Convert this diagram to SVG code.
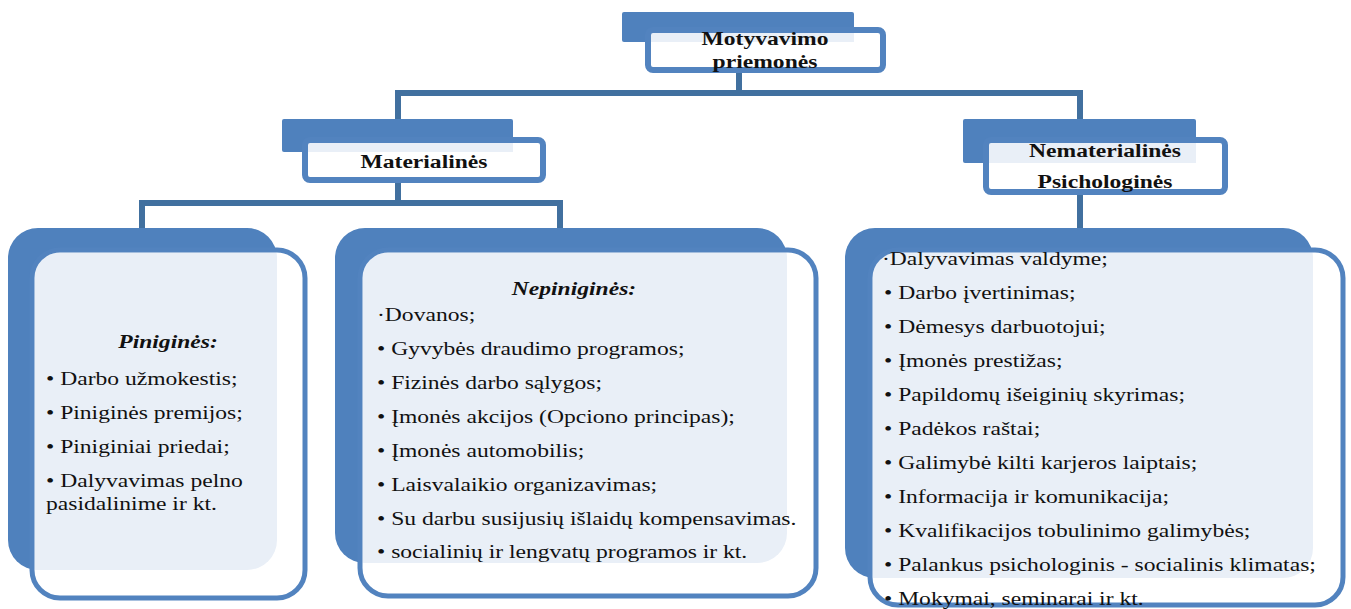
<svg xmlns="http://www.w3.org/2000/svg" width="1351" height="609" viewBox="0 0 1351 609">
<style>
.back{fill:#4f81bd}
.front{fill:#ffffff}
.light{fill:#e9eff7}
.frame{fill:none;stroke:#5283bf}
.hdr{stroke-width:6}
.big{stroke-width:5}
.conn{fill:none;stroke:#41709f;stroke-width:6;stroke-linejoin:miter}
text{font-family:"Liberation Serif","Times New Roman",serif;font-size:18px;fill:#111}
.b{font-weight:bold}
.bi{font-weight:bold;font-style:italic}
.c{text-anchor:middle}
</style>
<defs>
<clipPath id="cTop"><rect x="651" y="33" width="229" height="34"/></clipPath>
<clipPath id="cMat"><rect x="308" y="143" width="232" height="34"/></clipPath>
<clipPath id="cNem"><rect x="989" y="143" width="233" height="46"/></clipPath>
<clipPath id="cL"><rect x="34.5" y="252.5" width="268" height="343" rx="26"/></clipPath>
<clipPath id="cM"><rect x="362.5" y="252.5" width="451" height="341" rx="26"/></clipPath>
<clipPath id="cR"><rect x="872.5" y="252.5" width="468" height="350" rx="26"/></clipPath>
</defs>

<g id="connectors">
<path class="conn" d="M739 72 V93 M398 119 V93 H1080 V119"/>
<path class="conn" d="M398 183 V203 M142 228 V203 H560 V228"/>
<path class="conn" d="M1080 195 V228"/>
</g>

<g id="node-top">
<rect class="back" x="622" y="12" width="232" height="30" rx="2"/>
<rect class="front" x="648" y="30" width="235" height="40" rx="5"/>
<rect class="light" x="622" y="12" width="232" height="30" clip-path="url(#cTop)"/>
<rect class="frame hdr" x="648" y="30" width="235" height="40" rx="5"/>
<text class="b c" transform="translate(765,45) scale(1.31,1)">Motyvavimo</text>
<text class="b c" transform="translate(765,68) scale(1.31,1)">priemonės</text>
</g>

<g id="node-materialines">
<rect class="back" x="282" y="119" width="231" height="33" rx="2"/>
<rect class="front" x="305" y="140" width="238" height="40" rx="5"/>
<rect class="light" x="282" y="119" width="231" height="33" clip-path="url(#cMat)"/>
<rect class="frame hdr" x="305" y="140" width="238" height="40" rx="5"/>
<text class="b c" transform="translate(424,168) scale(1.31,1)">Materialinės</text>
</g>

<g id="node-nematerialines">
<rect class="back" x="963" y="119" width="233" height="44" rx="2"/>
<rect class="front" x="986" y="140" width="239" height="52" rx="5"/>
<rect class="light" x="963" y="119" width="233" height="44" clip-path="url(#cNem)"/>
<rect class="frame hdr" x="986" y="140" width="239" height="52" rx="5"/>
<text class="b c" transform="translate(1105,157) scale(1.31,1)">Nematerialinės</text>
<text class="b c" transform="translate(1105,188) scale(1.31,1)">Psichologinės</text>
</g>

<g id="node-pinigines">
<rect class="back" x="8" y="228" width="269" height="342" rx="30"/>
<rect class="front" x="32" y="250" width="273" height="348" rx="28"/>
<rect class="light" x="8" y="228" width="269" height="342" rx="30" clip-path="url(#cL)"/>
<rect class="frame big" x="32" y="250" width="273" height="348" rx="28"/>
<text class="bi c" transform="translate(168,348) scale(1.31,1)">Piniginės:</text>
<text transform="translate(46,385) scale(1.31,1)">• Darbo užmokestis;</text>
<text transform="translate(46,419) scale(1.31,1)">• Piniginės premijos;</text>
<text transform="translate(46,453) scale(1.31,1)">• Piniginiai priedai;</text>
<text transform="translate(46,487) scale(1.31,1)">• Dalyvavimas pelno</text>
<text transform="translate(46,510) scale(1.31,1)">pasidalinime ir kt.</text>
</g>

<g id="node-nepinigines">
<rect class="back" x="335" y="228" width="452" height="335" rx="30"/>
<rect class="front" x="360" y="250" width="456" height="346" rx="28"/>
<rect class="light" x="335" y="228" width="452" height="335" rx="30" clip-path="url(#cM)"/>
<rect class="frame big" x="360" y="250" width="456" height="346" rx="28"/>
<text class="bi c" transform="translate(574,295) scale(1.31,1)">Nepiniginės:</text>
<text transform="translate(377,321) scale(1.31,1)">·Dovanos;</text>
<text transform="translate(377,355) scale(1.31,1)">• Gyvybės draudimo programos;</text>
<text transform="translate(377,389) scale(1.31,1)">• Fizinės darbo sąlygos;</text>
<text transform="translate(377,423) scale(1.31,1)">• Įmonės akcijos (Opciono principas);</text>
<text transform="translate(377,457) scale(1.31,1)">• Įmonės automobilis;</text>
<text transform="translate(377,491) scale(1.31,1)">• Laisvalaikio organizavimas;</text>
<text transform="translate(377,525) scale(1.31,1)">• Su darbu susijusių išlaidų kompensavimas.</text>
<text transform="translate(377,558) scale(1.31,1)">• socialinių ir lengvatų programos ir kt.</text>
</g>

<g id="node-psichologines">
<rect class="back" x="845" y="228" width="468" height="350" rx="30"/>
<rect class="front" x="870" y="250" width="473" height="355" rx="28"/>
<rect class="light" x="845" y="228" width="468" height="350" rx="30" clip-path="url(#cR)"/>
<rect class="frame big" x="870" y="250" width="473" height="355" rx="28"/>
<text transform="translate(882,265) scale(1.31,1)">·Dalyvavimas valdyme;</text>
<text transform="translate(884,299) scale(1.31,1)">• Darbo įvertinimas;</text>
<text transform="translate(884,333) scale(1.31,1)">• Dėmesys darbuotojui;</text>
<text transform="translate(884,367) scale(1.31,1)">• Įmonės prestižas;</text>
<text transform="translate(884,401) scale(1.31,1)">• Papildomų išeiginių skyrimas;</text>
<text transform="translate(884,435) scale(1.31,1)">• Padėkos raštai;</text>
<text transform="translate(884,469) scale(1.31,1)">• Galimybė kilti karjeros laiptais;</text>
<text transform="translate(884,503) scale(1.31,1)">• Informacija ir komunikacija;</text>
<text transform="translate(884,537) scale(1.31,1)">• Kvalifikacijos tobulinimo galimybės;</text>
<text transform="translate(884,571) scale(1.31,1)">• Palankus psichologinis - socialinis klimatas;</text>
<text transform="translate(884,605) scale(1.31,1)">• Mokymai, seminarai ir kt.</text>
</g>
</svg>
